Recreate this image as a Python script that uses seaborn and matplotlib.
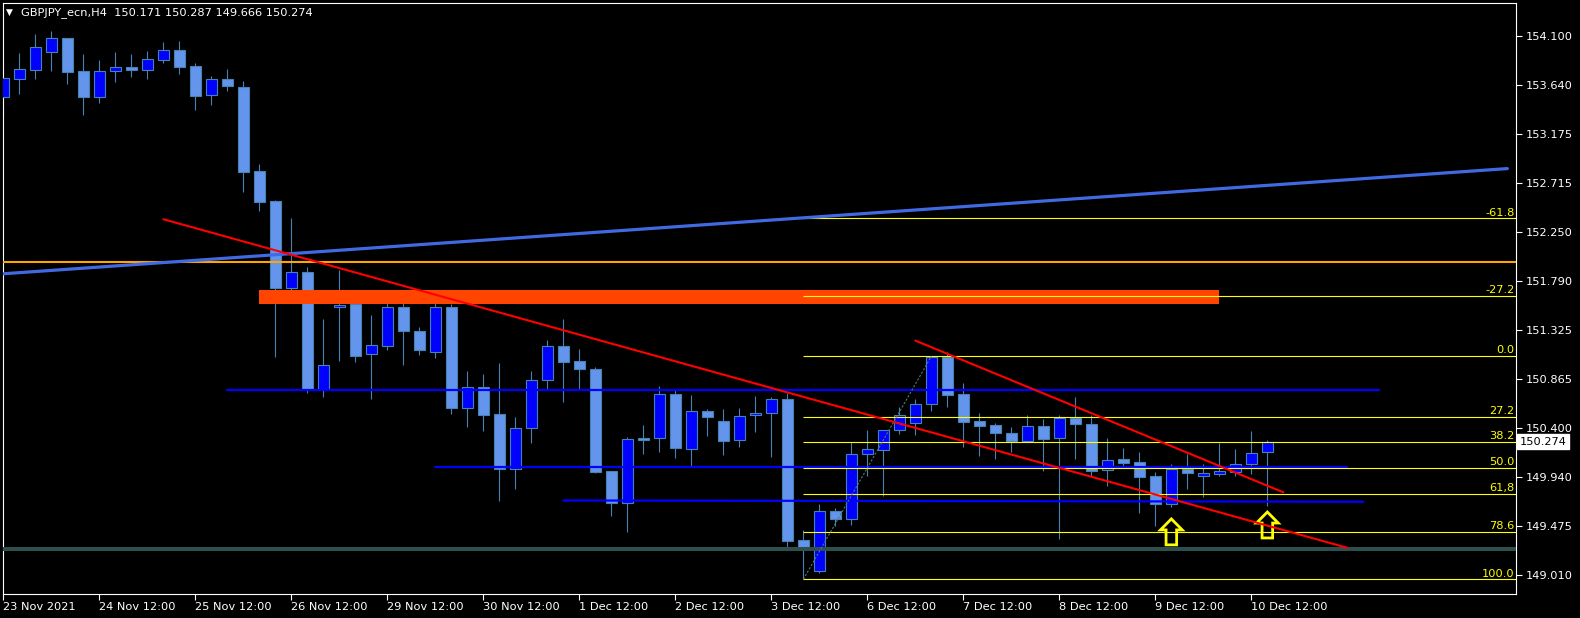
import matplotlib
matplotlib.use('Agg')
import matplotlib.pyplot as plt
import seaborn as sns
import pandas as pd
from matplotlib.patches import Polygon, Rectangle

# GBPJPY H4 candles (bar 0 = 23 Nov 12:00)
opens = [153.530, 153.700, 153.785, 153.949, 154.081, 153.772, 153.530, 153.770, 153.810, 153.785,
         153.879, 153.971, 153.820, 153.543, 153.697, 153.619, 152.828, 152.545, 151.727, 151.875,
         150.771, 151.542, 151.573, 151.098, 151.180, 151.542, 151.322, 151.123, 151.542, 150.594,
         150.786, 150.534, 150.018, 150.400, 150.853, 151.174, 151.035, 150.959, 149.996, 149.692,
         150.308, 150.305, 150.720, 150.207, 150.560, 150.468, 150.286, 150.522, 150.541, 150.676,
         149.345, 149.055, 149.619, 149.546, 150.154, 150.197, 150.381, 150.452, 150.626, 151.070,
         150.723, 150.468, 150.428, 150.355, 150.282, 150.418, 150.305, 150.494, 150.443, 150.003,
         150.107, 150.078, 149.949, 149.682, 150.018, 149.952, 149.971, 149.990, 150.060, 150.171]
highs = [153.720, 153.945, 154.122, 154.150, 154.085, 153.933, 153.876, 153.952, 153.933, 153.961,
         154.046, 154.056, 153.845, 153.725, 153.791, 153.678, 152.895, 152.550, 152.382, 151.922,
         151.431, 151.897, 151.674, 151.469, 151.667, 151.683, 151.356, 151.632, 151.570, 150.940,
         150.912, 151.013, 150.506, 150.940, 151.233, 151.431, 151.148, 150.978, 149.996, 150.317,
         150.431, 150.799, 150.761, 150.714, 150.579, 150.582, 150.591, 150.704, 150.698, 150.736,
         149.439, 149.685, 149.644, 150.273, 150.383, 150.383, 150.598, 150.676, 151.079, 151.117,
         150.830, 150.544, 150.450, 150.415, 150.525, 150.490, 150.525, 150.695, 150.525, 150.305,
         150.211, 150.176, 149.984, 150.063, 150.160, 150.063, 150.258, 150.204, 150.374, 150.287]
lows = [153.357, 153.555, 153.697, 153.775, 153.653, 153.357, 153.473, 153.671, 153.716, 153.697,
        153.851, 153.744, 153.407, 153.454, 153.586, 152.633, 152.454, 151.075, 151.698, 150.736,
        150.698, 151.038, 151.028, 150.679, 151.139, 150.997, 151.091, 151.066, 150.537, 150.412,
        150.374, 149.716, 149.827, 150.264, 150.771, 150.651, 150.771, 149.980, 149.574, 149.423,
        150.157, 150.176, 150.119, 150.046, 150.327, 150.147, 150.226, 150.365, 150.131, 149.282,
        148.974, 149.036, 149.477, 149.489, 149.952, 149.763, 150.349, 150.339, 150.566, 150.603,
        150.226, 150.141, 150.112, 150.176, 150.282, 149.999, 149.352, 150.112, 149.949, 149.858,
        150.046, 149.603, 149.477, 149.654, 149.829, 149.754, 149.952, 149.952, 149.971, 149.666]
closes = [153.704, 153.788, 153.996, 154.081, 153.766, 153.530, 153.772, 153.807, 153.785, 153.883,
          153.968, 153.813, 153.539, 153.694, 153.631, 152.822, 152.539, 151.727, 151.872, 150.771,
          150.994, 151.561, 151.085, 151.183, 151.542, 151.321, 151.139, 151.542, 150.594, 150.792,
          150.525, 150.018, 150.400, 150.853, 151.174, 151.028, 150.962, 149.987, 149.697, 150.296,
          150.292, 150.720, 150.216, 150.560, 150.509, 150.282, 150.513, 150.541, 150.673, 149.338,
          149.282, 149.616, 149.546, 150.154, 150.201, 150.381, 150.522, 150.626, 151.070, 150.714,
          150.459, 150.424, 150.358, 150.280, 150.418, 150.301, 150.494, 150.443, 149.999, 150.103,
          150.075, 149.943, 149.682, 150.012, 149.980, 149.975, 149.994, 150.060, 150.164, 150.274]

x_tick_bars = list(range(0, 79, 6))
x_tick_labels = ['23 Nov 2021', '24 Nov 12:00', '25 Nov 12:00', '26 Nov 12:00', '29 Nov 12:00',
                 '30 Nov 12:00', '1 Dec 12:00', '2 Dec 12:00', '3 Dec 12:00', '6 Dec 12:00',
                 '7 Dec 12:00', '8 Dec 12:00', '9 Dec 12:00', '10 Dec 12:00']
y_ticks = [154.100, 153.640, 153.175, 152.715, 152.250, 151.790, 151.325,
           150.865, 150.400, 149.940, 149.475, 149.010]

# fibonacci object
fib_levels = [-61.8, -27.2, 0.0, 27.2, 38.2, 50.0, 61.8, 78.6, 100.0]
fib_labels = ['-61.8', '-27.2', '0.0', '27.2', '38.2', '50.0', '61,8', '78.6', '100.0']
fib_high = 151.079
fib_low = 148.973
fib_bars = [50, 58]

# other drawn objects
blue_trend_bars = [0, 94]
blue_trend_prices = [151.858, 152.851]
red1_bars = [10, 84]
red1_prices = [152.373, 149.271]
red2_bars = [57, 80]
red2_prices = [151.227, 149.795]
orange_level = 151.965
grey_level = 149.263
zone_bars = [16, 76]
zone_prices = [151.573, 151.706]
hline_start = [14, 27, 35]
hline_end = [86, 84, 85]
hline_p0 = [150.761, 150.037, 149.718]
hline_p1 = [150.761, 150.037, 149.706]
arrow_bars = [73, 79]
arrow_tips = [149.544, 149.609]
last_price = 150.274
header = 'GBPJPY_ecn,H4  150.171 150.287 149.666 150.274'

sns.set_style('dark', {'axes.facecolor': 'black', 'figure.facecolor': 'black'})
plt.rcParams['font.family'] = ['DejaVu Sans']
fs = 8.2

W, H = 1580, 618
fig = plt.figure(figsize=(W / 100, H / 100), dpi=100, facecolor='black')
ax = fig.add_axes([2.5 / W, 24 / H, (1516 - 2.5) / W, (594 - 2.8) / H])
ax.set_facecolor('black')
xmax = 94.54
ax.set_xlim(-0.05, xmax)
ax.set_ylim(148.835, 154.416)

df = pd.DataFrame({'o': opens, 'h': highs, 'l': lows, 'c': closes})
df['bar'] = range(len(df))
bull = df.c >= df.o
wick_col = '#4682B4'
ax.vlines(df.bar, df.l, df.h, color=wick_col, lw=0.8, zorder=2)
body_lo = df[['o', 'c']].min(axis=1)
body_h = (df.c - df.o).abs().clip(lower=0.006)
fills = ['#0000FF' if b else '#6495ED' for b in bull]
ax.bar(df.bar, body_h, bottom=body_lo, width=0.66, color=fills,
       edgecolor=wick_col, linewidth=0.8, zorder=3)

# zone rectangle
ax.add_patch(Rectangle((zone_bars[0], zone_prices[0]), zone_bars[1] - zone_bars[0],
                       zone_prices[1] - zone_prices[0], facecolor='#FF4500',
                       edgecolor='none', zorder=4))

# horizontal levels
ax.axhline(grey_level, color='#2F4F4F', lw=2.9, zorder=5)
ax.axhline(orange_level, color='#FFA500', lw=1.5, zorder=5)
for s, e, p0, p1 in zip(hline_start, hline_end, hline_p0, hline_p1):
    sns.lineplot(x=[s, e], y=[p0, p1], color='#0000FF', lw=1.6, ax=ax, zorder=5)

# fibo
rng = fib_high - fib_low
for lev, lab in zip(fib_levels, fib_labels):
    p = fib_high - lev / 100 * rng
    ax.hlines(p, fib_bars[0], xmax, color='#FFFF00', lw=0.8, zorder=6)
    ax.text(xmax - 0.08, p + 0.008, lab, color='#FFFF00', fontsize=fs,
            ha='right', va='bottom', zorder=6)
sns.lineplot(x=fib_bars, y=[fib_low, fib_high], color='#4F7777', lw=0.8,
             linestyle=(0, (2, 1.5)), ax=ax, zorder=6)

# arrows
hw, sw, hh, tot = 0.68, 0.33, 0.104, 0.245
for b, t in zip(arrow_bars, arrow_tips):
    pts = [(b, t), (b + hw, t - hh), (b + sw, t - hh), (b + sw, t - tot),
           (b - sw, t - tot), (b - sw, t - hh), (b - hw, t - hh)]
    ax.add_patch(Polygon(pts, closed=True, facecolor='none', edgecolor='#FFFF00',
                         lw=2.0, zorder=6))

# trend lines
sns.lineplot(x=blue_trend_bars, y=blue_trend_prices, color='#4169E1', lw=2.3, ax=ax, zorder=7)
sns.lineplot(x=red1_bars, y=red1_prices, color='#FF0000', lw=1.5, ax=ax, zorder=7)
sns.lineplot(x=red2_bars, y=red2_prices, color='#FF0000', lw=1.5, ax=ax, zorder=7)

# axes styling
ax.grid(False)
for sp in ax.spines.values():
    sp.set_color('white')
    sp.set_linewidth(0.8)
ax.yaxis.tick_right()
ax.set_yticks(y_ticks)
ax.set_yticklabels(['%.3f' % v for v in y_ticks])
ax.set_xticks(x_tick_bars)
ax.set_xticklabels(x_tick_labels)
for lbl in ax.get_xticklabels():
    lbl.set_horizontalalignment('left')
ax.tick_params(axis='y', right=True, left=False, colors='white', length=4, width=0.8,
               labelsize=fs, pad=3, direction='out')
ax.tick_params(axis='x', bottom=True, colors='white', length=4, width=0.8,
               labelsize=fs, pad=2, direction='out')
ax.set_xlabel('')
ax.set_ylabel('')

ax.annotate('%.3f' % last_price, xy=(1, last_price), xycoords=('axes fraction', 'data'),
            xytext=(2.5, 0), textcoords='offset points', ha='left', va='center',
            color='black', fontsize=fs,
            bbox=dict(boxstyle='square,pad=0.2', fc='white', ec='white'))

fig.text(6 / W, 1 - 12.5 / H, '\u25bc', color='white', fontsize=6.5, va='center', ha='left')
fig.text(21 / W, 1 - 13 / H, header, color='white', fontsize=fs, va='center', ha='left')

fig.savefig('out.png', dpi=100, facecolor='black')
